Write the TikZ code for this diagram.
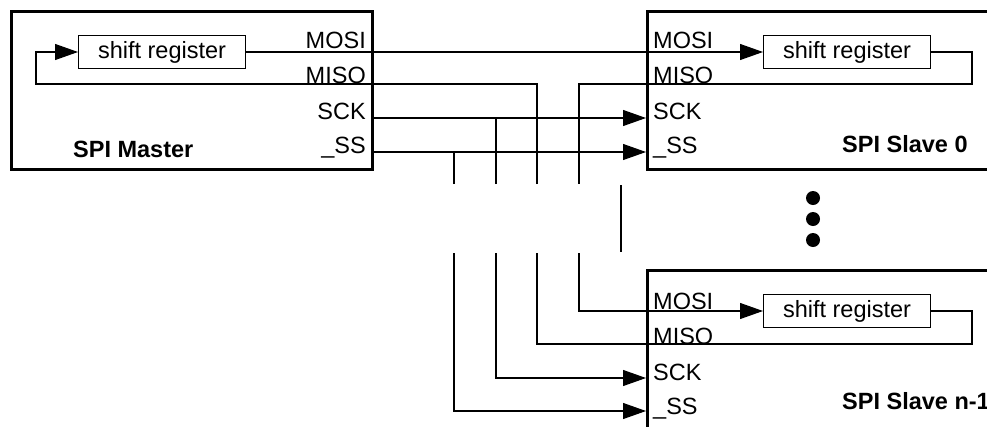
\documentclass[tikz,border=0pt]{standalone}
\usepackage{fontspec}
\setmainfont{Liberation Sans}
\usetikzlibrary{arrows.meta}
\begin{document}
\begin{tikzpicture}[x=1pt,y=-1pt,
  wire/.style={line width=1.1pt},
  arr/.style={wire,-{Triangle[length=23pt,width=16pt]}},
  chip/.style={draw,line width=3.2pt,inner sep=0pt,anchor=north west},
  sreg/.style={draw,line width=1pt,minimum width=167pt,minimum height=33pt,inner sep=0pt,anchor=north west,font=\fontsize{23.5}{28}\selectfont},
  pinlabel/.style={inner sep=0pt,font=\fontsize{23.5}{28}\selectfont},
  chiptitle/.style={inner sep=0pt,anchor=base west,font=\fontsize{23.5}{28}\selectfont\bfseries},
  blackdot/.style={circle,fill,inner sep=0pt,minimum size=14pt}]
\useasboundingbox (0,0) rectangle (987,426);
\clip (0,0) rectangle (987,426);

% chips
\node[chip,minimum width=361pt,minimum height=158pt] (master) at (10,10) {};
\node[chip,minimum width=420pt,minimum height=158pt] (slave0) at (646,10) {};
\node[chip,minimum width=420pt,minimum height=220pt] (slaveN) at (646,269) {};

% shift registers
\node[sreg] (srM) at (78,35) {shift register};
\node[sreg] (sr0) at (763,35) {shift register};
\node[sreg] (srN) at (763,294) {shift register};

% master labels
\node[pinlabel,anchor=base east] (mMOSI) at (366,48) {MOSI};
\node[pinlabel,anchor=base east] (mMISO) at (366,83) {MISO};
\node[pinlabel,anchor=base east] (mSCKl) at (366,119) {SCK};
\node[pinlabel,anchor=base east] (mSSl) at (366,153) {\textunderscore SS};
\node[chiptitle] (tM) at (73,157) {SPI Master};

% slave 0 labels
\node[pinlabel,anchor=base west] (s0MOSI) at (653,48) {MOSI};
\node[pinlabel,anchor=base west] (s0MISO) at (653,83) {MISO};
\node[pinlabel,anchor=base west] (s0SCKl) at (653,119) {SCK};
\node[pinlabel,anchor=base west] (s0SSl) at (653,153) {\textunderscore SS};
\node[chiptitle] (t0) at (842,152) {SPI Slave 0};

% slave n-1 labels
\node[pinlabel,anchor=base west] (sNMOSI) at (653,309) {MOSI};
\node[pinlabel,anchor=base west] (sNMISO) at (653,344) {MISO};
\node[pinlabel,anchor=base west] (sNSCKl) at (653,380) {SCK};
\node[pinlabel,anchor=base west] (sNSSl) at (653,414) {\textunderscore SS};
\node[chiptitle] (tN) at (842,409) {SPI Slave n-1};

% dots
\node[blackdot] (d1) at (813,198) {};
\node[blackdot] (d2) at (813,219) {};
\node[blackdot] (d3) at (813,240) {};

% coordinates
\coordinate (fb) at (36,84);
\coordinate (a1) at (537,184);
\coordinate (b1) at (579,184);
\coordinate (c1) at (496,184);
\coordinate (e1) at (454,184);
\coordinate (a2) at (537,253);
\coordinate (b2) at (579,253);
\coordinate (c2) at (496,253);
\coordinate (e2) at (454,253);
\coordinate (s0ret) at (972,84);
\coordinate (sNret) at (972,344);
\coordinate (mSCK) at (371,118);
\coordinate (mSS) at (371,152);
\coordinate (s0SCK) at (646,118);
\coordinate (s0SS) at (646,152);
\coordinate (sNSCK) at (646,378);
\coordinate (sNSS) at (646,411);
\coordinate (v1) at (621,185);
\coordinate (v2) at (621,252);

% MOSI master -> slave 0
\draw[arr] (srM.east) -- (sr0.west);
% MISO into master, feedback loop
\draw[arr] (a1) |- (fb) |- (srM.west);
% slave 0 shift register out
\draw[wire] (sr0.east) -| (s0ret) -| (b1);
% SCK and SS
\draw[arr] (mSCK) -- (s0SCK);
\draw[arr] (mSS) -- (s0SS);
\draw[wire] (c1) -- (c1 |- mSCK);
\draw[wire] (e1) -- (e1 |- mSS);
% lone vertical
\draw[wire] (v1) -- (v2);
% slave n-1
\draw[arr] (b2) |- (srN.west);
\draw[wire] (srN.east) -| (sNret) -| (a2);
\draw[arr] (c2) |- (sNSCK);
\draw[arr] (e2) |- (sNSS);
\end{tikzpicture}
\end{document}
